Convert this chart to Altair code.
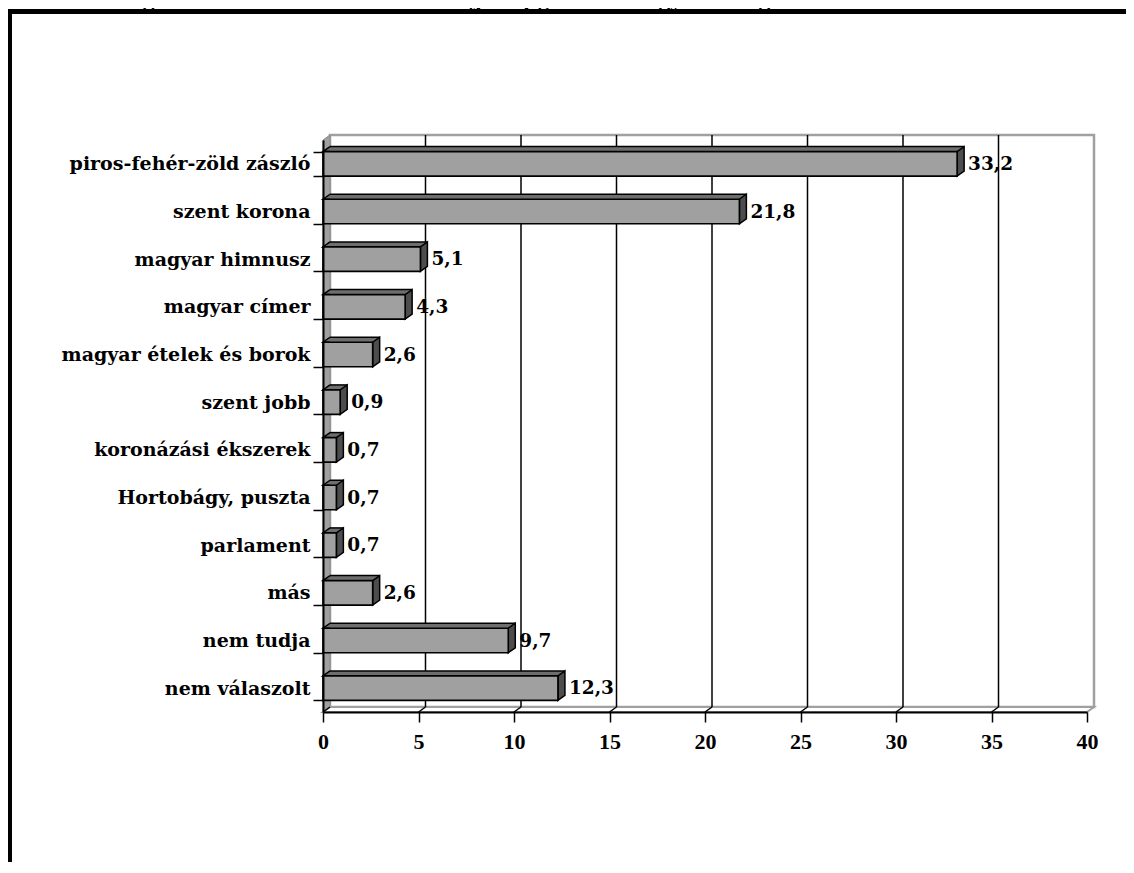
import altair as alt
import pandas as pd

# ---- data ----
categories = [
    "piros-fehér-zöld zászló",
    "szent korona",
    "magyar himnusz",
    "magyar címer",
    "magyar ételek és borok",
    "szent jobb",
    "koronázási ékszerek",
    "Hortobágy, puszta",
    "parlament",
    "más",
    "nem tudja",
    "nem válaszolt",
]
values = [33.2, 21.8, 5.1, 4.3, 2.6, 0.9, 0.7, 0.7, 0.7, 2.6, 9.7, 12.3]
x_ticks = [0, 5, 10, 15, 20, 25, 30, 35, 40]
title_text = "3.15. ábra: Legfontosabb nemzeti szimbólum (jelkép), említések gyakorisága"

df = pd.DataFrame({
    "category": categories,
    "value": values,
    "label": [f"{v:.1f}".replace(".", ",") for v in values],
    "zero": [0] * len(values),
})
ticks_df = pd.DataFrame({"tick": x_ticks})
axis_df = pd.DataFrame({"lo": [min(x_ticks)], "hi": [max(x_ticks)]})

# ---- geometry / style ----
W, H = 764, 572
PAD = {"left": 315, "top": 132, "right": 39, "bottom": 150}
DX, DY = 7, 5
BW = 24.5
STEP = H / len(categories)
PI = 1 - BW / STEP
FONT = "Liberation Serif"
LFONT = "DejaVu Serif"
FRONT = "#a0a0a0"
TOPC = "#6e6e6e"
SIDEC = "#4d4d4d"
WALL = "#a0a0a0"

xscale = alt.Scale(domain=[0, 40], nice=False, zero=True)
yscale = alt.Scale(paddingInner=PI, paddingOuter=PI / 2)

x_axis = alt.Axis(values=x_ticks, title=None, grid=False, domainColor="black",
                  domainWidth=2, tickColor="black", tickWidth=1.5, tickSize=10,
                  labelPadding=9, labelFont=FONT, labelFontSize=22, labelFlush=False,
                  labelFontWeight="bold", labelColor="black", zindex=1)
y_axis = alt.Axis(title=None, grid=False, domainColor="black", domainWidth=2,
                  tickColor="black", tickWidth=1.5, tickSize=10, tickBand="extent",
                  labelPadding=3, labelFont=LFONT, labelFontSize=19,
                  labelFontWeight="bold", labelColor="black", labelLimit=400, zindex=1)

X = alt.X("value:Q", scale=xscale, axis=x_axis)
Y = alt.Y("category:N", sort=categories, scale=yscale, axis=y_axis)

base = alt.Chart(df)

# back wall
back_wall = alt.Chart(axis_df).mark_rect(
    fill="white", stroke=WALL, strokeWidth=2.5, xOffset=DX, x2Offset=DX
).encode(
    x=alt.X("lo:Q"), x2=alt.X2("hi:Q"),
    y=alt.value(-DY), y2=alt.value(H - DY),
)

# left wall and floor (parallelograms)
left_wall_shape = f"M0,0 L{DX},{-DY} L{DX},{H - DY} L0,{H} Z"
left_wall = alt.Chart(axis_df).mark_point(
    shape=left_wall_shape, size=4, filled=True, fill=WALL, stroke="#8a8a8a",
    strokeWidth=1, opacity=1
).encode(x=alt.X("lo:Q"), y=alt.value(0))

floor_shape = f"M0,0 L{DX},{-DY} L{W + DX},{-DY} L{W},0 Z"
floor = alt.Chart(axis_df).mark_point(
    shape=floor_shape, size=4, filled=True, fill="white", stroke=WALL,
    strokeWidth=2, opacity=1
).encode(x=alt.X("lo:Q"), y=alt.value(H))

# grid lines on back wall
grid = alt.Chart(ticks_df).transform_filter(
    (alt.datum.tick > 0) & (alt.datum.tick < 40)
).mark_rule(color="black", strokeWidth=1.5, xOffset=DX).encode(
    x=alt.X("tick:Q"), y=alt.value(-DY), y2=alt.value(H - DY)
)

# floor slanted ticks
floor_ticks = alt.Chart(ticks_df).transform_filter(alt.datum.tick < 40).mark_point(
    shape=f"M0,0 L{DX},{-DY}", size=4, filled=False, stroke="black",
    strokeWidth=1.5, opacity=1
).encode(x=alt.X("tick:Q"), y=alt.value(H))

# bars: top face (shifted rect), back edge, right face, left corner, front face
top_face = base.mark_bar(
    fill=TOPC, strokeWidth=0, xOffset=DX, x2Offset=DX, yOffset=-DY, y2Offset=-DY
).encode(x=X, y=Y)

back_edge = base.mark_rule(
    color="black", strokeWidth=1.5, xOffset=DX, x2Offset=DX, yOffset=-DY
).encode(
    x=alt.X("zero:Q"), x2=alt.X2("value:Q"),
    y=alt.Y("category:N", sort=categories, bandPosition=0),
)

h2 = BW / 2
side_shape = f"M0,{-h2} L{DX},{-h2 - DY} L{DX},{h2 - DY} L0,{h2} Z"
side_face = base.mark_point(
    shape=side_shape, size=4, filled=True, fill=SIDEC, stroke="black",
    strokeWidth=1.5, opacity=1
).encode(x=X, y=Y)

corner_shape = f"M{DX},{-h2} L0,{-h2} L{DX},{-h2 - DY}"
left_corner = base.mark_point(
    shape=corner_shape, size=4, filled=True, fill=TOPC, stroke="black",
    strokeWidth=1.5, opacity=1
).encode(x=alt.X("zero:Q"), y=Y)

front = base.mark_bar(fill=FRONT, stroke="black", strokeWidth=1.6).encode(x=X, y=Y)

labels = base.mark_text(
    align="left", baseline="middle", dx=DX + 4, font=LFONT, fontSize=18.5,
    fontWeight="bold", color="black"
).encode(x=X, y=Y, text="label:N")

# outer frame (top and left edges only; the rest runs off the page) and clipped caption
frame_top = alt.Chart(axis_df).mark_rule(color="black", strokeWidth=5).encode(
    x=alt.value(-PAD["left"]), x2=alt.value(W + PAD["right"]),
    y=alt.value(3.5 - PAD["top"]),
)
frame_left = alt.Chart(axis_df).mark_rule(color="black", strokeWidth=5).encode(
    x=alt.value(1.5 - PAD["left"]),
    y=alt.value(1 - PAD["top"]), y2=alt.value(H + PAD["bottom"]),
)
caption = alt.Chart(axis_df).mark_text(
    align="left", baseline="alphabetic", font=FONT, fontSize=24,
    fontWeight="bold", color="black", text=title_text
).encode(
    x=alt.value(-8 - PAD["left"]), y=alt.value(-2 - PAD["top"]),
)

chart = alt.layer(
    back_wall, left_wall, floor, grid, floor_ticks,
    top_face, back_edge, side_face, left_corner, front, labels,
    frame_top, frame_left, caption,
).properties(
    width=W, height=H, padding=PAD, autosize=alt.AutoSizeParams(type="none"),
).configure_view(strokeWidth=0)

chart.save("out.html", embed_options={"renderer": "svg", "actions": False})
